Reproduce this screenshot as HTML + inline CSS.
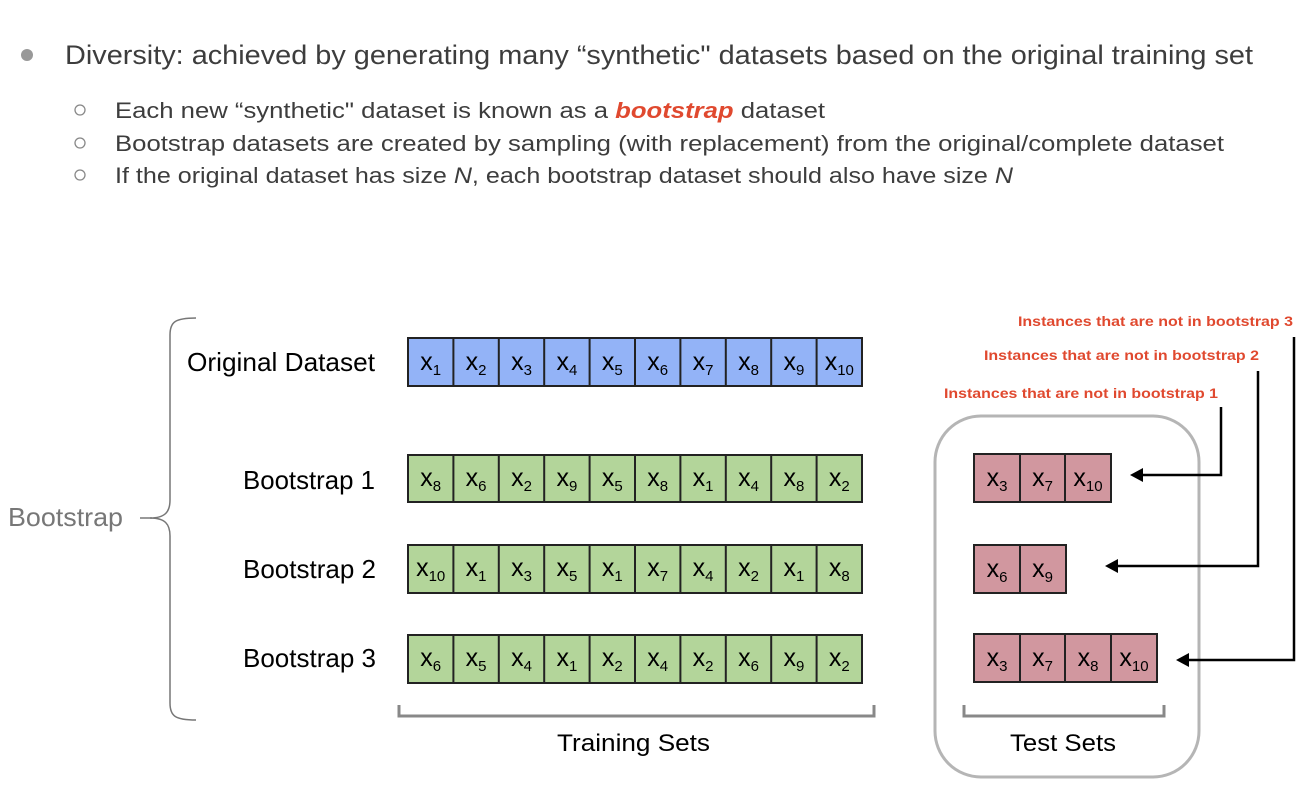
<!DOCTYPE html>
<html><head><meta charset="utf-8"><style>
html,body{margin:0;padding:0;background:#fff;width:1311px;height:789px;overflow:hidden}
svg{display:block}
</style></head><body>
<svg width="1311" height="789" viewBox="0 0 1311 789" xmlns="http://www.w3.org/2000/svg" font-family="Liberation Sans, sans-serif">
<circle cx="27" cy="55" r="6" fill="#999"/>
<text x="65" y="64" font-size="27" fill="#3d3d3d" textLength="1188" lengthAdjust="spacingAndGlyphs">Diversity: achieved by generating many “synthetic" datasets based on the original training set</text>
<g fill="none" stroke="#888" stroke-width="1.3"><circle cx="80" cy="110" r="5"/><circle cx="80" cy="143" r="5"/><circle cx="80" cy="175" r="5"/></g>
<g font-size="22" fill="#3d3d3d">
<text x="115" y="118" textLength="710" lengthAdjust="spacingAndGlyphs">Each new “synthetic" dataset is known as a <tspan fill="#e0492f" font-weight="bold" font-style="italic">bootstrap</tspan> dataset</text>
<text x="115" y="151" textLength="1109" lengthAdjust="spacingAndGlyphs">Bootstrap datasets are created by sampling (with replacement) from the original/complete dataset</text>
<text x="115" y="183" textLength="898" lengthAdjust="spacingAndGlyphs">If the original dataset has size <tspan font-style="italic">N</tspan>, each bootstrap dataset should also have size <tspan font-style="italic">N</tspan></text>
</g>
<path d="M196,318 C175,318 170,322 170,335 L170,500 C170,512 165,518 150,518 C165,518 170,524 170,536 L170,703 C170,716 175,720 196,720" fill="none" stroke="#777" stroke-width="1.5"/>
<line x1="140" y1="518" x2="152" y2="518" stroke="#777" stroke-width="1.5"/>
<text x="8" y="526" font-size="26" fill="#777" textLength="115" lengthAdjust="spacingAndGlyphs">Bootstrap</text>
<g font-size="26" fill="#000">
<text x="187" y="371" textLength="188" lengthAdjust="spacingAndGlyphs">Original Dataset</text>
<text x="243" y="489" textLength="132" lengthAdjust="spacingAndGlyphs">Bootstrap 1</text>
<text x="243" y="578" textLength="133" lengthAdjust="spacingAndGlyphs">Bootstrap 2</text>
<text x="243" y="667" textLength="133" lengthAdjust="spacingAndGlyphs">Bootstrap 3</text>
</g>
<g stroke="#222" stroke-width="2">
<rect x="408" y="338" width="454" height="48" fill="#93b3f7"/>
<rect x="408" y="455" width="454" height="47" fill="#b3d59a"/>
<rect x="408" y="545" width="454" height="48" fill="#b3d59a"/>
<rect x="408" y="635" width="454" height="48" fill="#b3d59a"/>
<path d="M453.4,338V386M498.8,338V386M544.2,338V386M589.6,338V386M635,338V386M680.4,338V386M725.8,338V386M771.2,338V386M816.6,338V386
M453.4,455V502M498.8,455V502M544.2,455V502M589.6,455V502M635,455V502M680.4,455V502M725.8,455V502M771.2,455V502M816.6,455V502
M453.4,545V593M498.8,545V593M544.2,545V593M589.6,545V593M635,545V593M680.4,545V593M725.8,545V593M771.2,545V593M816.6,545V593
M453.4,635V683M498.8,635V683M544.2,635V683M589.6,635V683M635,635V683M680.4,635V683M725.8,635V683M771.2,635V683M816.6,635V683" fill="none"/>
</g>
<g font-size="25" fill="#000" text-anchor="middle">
<text x="430.7" y="370">x<tspan font-size="15" dy="5">1</tspan></text>
<text x="476.1" y="370">x<tspan font-size="15" dy="5">2</tspan></text>
<text x="521.5" y="370">x<tspan font-size="15" dy="5">3</tspan></text>
<text x="566.9" y="370">x<tspan font-size="15" dy="5">4</tspan></text>
<text x="612.3" y="370">x<tspan font-size="15" dy="5">5</tspan></text>
<text x="657.7" y="370">x<tspan font-size="15" dy="5">6</tspan></text>
<text x="703.1" y="370">x<tspan font-size="15" dy="5">7</tspan></text>
<text x="748.5" y="370">x<tspan font-size="15" dy="5">8</tspan></text>
<text x="793.9" y="370">x<tspan font-size="15" dy="5">9</tspan></text>
<text x="839.3" y="370">x<tspan font-size="15" dy="5">10</tspan></text>

<text x="430.7" y="486">x<tspan font-size="15" dy="5">8</tspan></text>
<text x="476.1" y="486">x<tspan font-size="15" dy="5">6</tspan></text>
<text x="521.5" y="486">x<tspan font-size="15" dy="5">2</tspan></text>
<text x="566.9" y="486">x<tspan font-size="15" dy="5">9</tspan></text>
<text x="612.3" y="486">x<tspan font-size="15" dy="5">5</tspan></text>
<text x="657.7" y="486">x<tspan font-size="15" dy="5">8</tspan></text>
<text x="703.1" y="486">x<tspan font-size="15" dy="5">1</tspan></text>
<text x="748.5" y="486">x<tspan font-size="15" dy="5">4</tspan></text>
<text x="793.9" y="486">x<tspan font-size="15" dy="5">8</tspan></text>
<text x="839.3" y="486">x<tspan font-size="15" dy="5">2</tspan></text>

<text x="430.7" y="576">x<tspan font-size="15" dy="5">10</tspan></text>
<text x="476.1" y="576">x<tspan font-size="15" dy="5">1</tspan></text>
<text x="521.5" y="576">x<tspan font-size="15" dy="5">3</tspan></text>
<text x="566.9" y="576">x<tspan font-size="15" dy="5">5</tspan></text>
<text x="612.3" y="576">x<tspan font-size="15" dy="5">1</tspan></text>
<text x="657.7" y="576">x<tspan font-size="15" dy="5">7</tspan></text>
<text x="703.1" y="576">x<tspan font-size="15" dy="5">4</tspan></text>
<text x="748.5" y="576">x<tspan font-size="15" dy="5">2</tspan></text>
<text x="793.9" y="576">x<tspan font-size="15" dy="5">1</tspan></text>
<text x="839.3" y="576">x<tspan font-size="15" dy="5">8</tspan></text>

<text x="430.7" y="666">x<tspan font-size="15" dy="5">6</tspan></text>
<text x="476.1" y="666">x<tspan font-size="15" dy="5">5</tspan></text>
<text x="521.5" y="666">x<tspan font-size="15" dy="5">4</tspan></text>
<text x="566.9" y="666">x<tspan font-size="15" dy="5">1</tspan></text>
<text x="612.3" y="666">x<tspan font-size="15" dy="5">2</tspan></text>
<text x="657.7" y="666">x<tspan font-size="15" dy="5">4</tspan></text>
<text x="703.1" y="666">x<tspan font-size="15" dy="5">2</tspan></text>
<text x="748.5" y="666">x<tspan font-size="15" dy="5">6</tspan></text>
<text x="793.9" y="666">x<tspan font-size="15" dy="5">9</tspan></text>
<text x="839.3" y="666">x<tspan font-size="15" dy="5">2</tspan></text>
</g>
<path d="M399,705V716H874V705" fill="none" stroke="#888" stroke-width="3"/>
<text x="557" y="751" font-size="24" fill="#000" textLength="153" lengthAdjust="spacingAndGlyphs">Training Sets</text>
<rect x="935" y="416" width="264" height="361" rx="46" fill="none" stroke="#b5b5b5" stroke-width="3"/>
<g stroke="#222" stroke-width="2" fill="#d1979f">
<rect x="974" y="454" width="137" height="48"/>
<rect x="974" y="545" width="92" height="48"/>
<rect x="974" y="634" width="183" height="48"/>
<path d="M1020,454V502M1065,454V502M1020,545V593M1020,634V682M1065,634V682M1111,634V682" fill="none"/>
</g>
<g font-size="25" fill="#000" text-anchor="middle">
<text x="997" y="486">x<tspan font-size="15" dy="5">3</tspan></text>
<text x="1042.5" y="486">x<tspan font-size="15" dy="5">7</tspan></text>
<text x="1088" y="486">x<tspan font-size="15" dy="5">10</tspan></text>
<text x="997" y="577">x<tspan font-size="15" dy="5">6</tspan></text>
<text x="1042.5" y="577">x<tspan font-size="15" dy="5">9</tspan></text>
<text x="997" y="666">x<tspan font-size="15" dy="5">3</tspan></text>
<text x="1042.5" y="666">x<tspan font-size="15" dy="5">7</tspan></text>
<text x="1088" y="666">x<tspan font-size="15" dy="5">8</tspan></text>
<text x="1134" y="666">x<tspan font-size="15" dy="5">10</tspan></text>
</g>
<path d="M964,705V716H1164V705" fill="none" stroke="#888" stroke-width="3"/>
<text x="1010" y="751" font-size="24" fill="#000" textLength="106" lengthAdjust="spacingAndGlyphs">Test Sets</text>
<g fill="none" stroke="#000" stroke-width="2.5">
<path d="M1221,407V475H1140"/>
<path d="M1258,371V566H1115"/>
<path d="M1294,337V660H1187"/>
</g>
<g fill="#000">
<path d="M1130,475L1143,468V482Z"/>
<path d="M1105,566L1118,559V573Z"/>
<path d="M1176,660L1189,653V667Z"/>
</g>
<g font-size="14" font-weight="bold" fill="#e0492f">
<text x="1018" y="326" textLength="275" lengthAdjust="spacingAndGlyphs">Instances that are not in bootstrap 3</text>
<text x="984" y="360" textLength="275" lengthAdjust="spacingAndGlyphs">Instances that are not in bootstrap 2</text>
<text x="944" y="398" textLength="274" lengthAdjust="spacingAndGlyphs">Instances that are not in bootstrap 1</text>
</g>
</svg>
</body></html>
